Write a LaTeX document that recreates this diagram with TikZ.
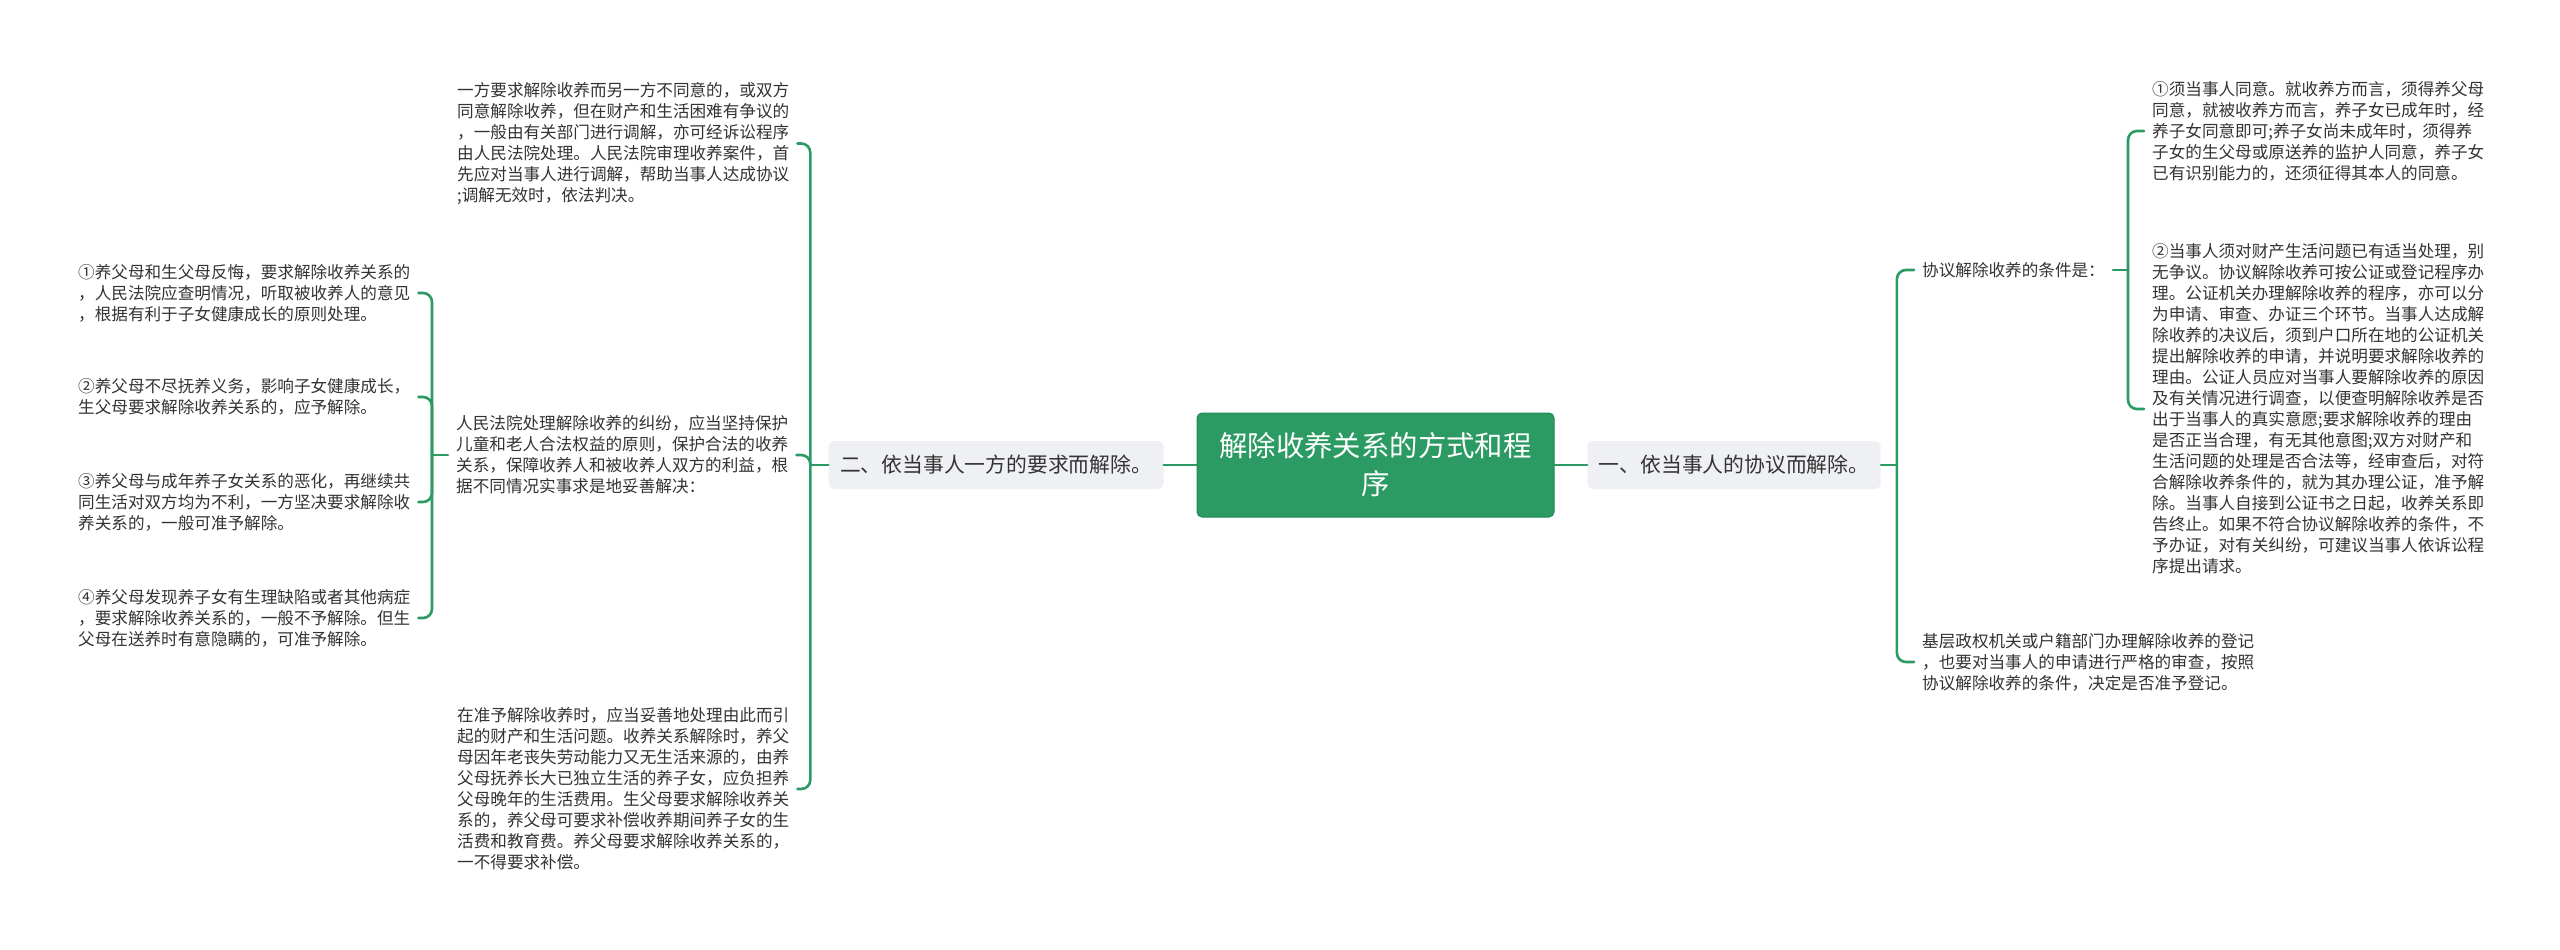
\documentclass[tikz,border=0pt]{standalone}
\usepackage{fontspec}
\newfontfamily\cjk{Noto Sans CJK SC}
\usetikzlibrary{calc}
\definecolor{mgreen}{HTML}{2C9A63}
\definecolor{mgreendark}{HTML}{23875A}
\definecolor{lvlfill}{HTML}{EEF0F3}
\definecolor{txt}{HTML}{333333}
\begin{document}
\begin{tikzpicture}[x=1pt,y=-1pt,
  conn/.style={draw=mgreen, line width=2.6pt, rounded corners=9pt, line cap=round},
  rootbox/.style={fill=mgreen, draw=mgreendark, line width=1pt, rounded corners=5pt, minimum width=357pt, minimum height=104pt, align=center, text=white, font=\cjk\fontsize{28.4}{38}\selectfont, inner sep=0pt},
  lvlbox/.style={fill=lvlfill, rounded corners=6pt, minimum height=48pt, inner xsep=11.5pt, inner ysep=0pt, text=txt, font=\cjk\fontsize{20.8}{26}\selectfont},
  leaf/.style={align=left, anchor=west, inner xsep=8pt, inner ysep=3pt, text=txt, font=\cjk\fontsize{16.6}{21}\selectfont}
]
\fill[white] (0,0) rectangle (2560,950);
\useasboundingbox (0,0) rectangle (2560,950);

\node[rootbox] (root) at (1375.5,465) {解除收养关系的方式和程\\序};
\node[lvlbox] (r1) at (1734,465) {一、依当事人的协议而解除。};
\node[lvlbox] (l1) at (996,465) {二、依当事人一方的要求而解除。};

% right side
\node[leaf] (ra) at (1914,270) {协议解除收养的条件是：};
\node[leaf] (rb) at (1914,662) {基层政权机关或户籍部门办理解除收养的登记\\，也要对当事人的申请进行严格的审查，按照\\协议解除收养的条件，决定是否准予登记。};
\node[leaf] (raa) at (2144,131) {①须当事人同意。就收养方而言，须得养父母\\同意，就被收养方而言，养子女已成年时，经\\养子女同意即可;养子女尚未成年时，须得养\\子女的生父母或原送养的监护人同意，养子女\\已有识别能力的，还须征得其本人的同意。};
\node[leaf] (rab) at (2144,409) {②当事人须对财产生活问题已有适当处理，别\\无争议。协议解除收养可按公证或登记程序办\\理。公证机关办理解除收养的程序，亦可以分\\为申请、审查、办证三个环节。当事人达成解\\除收养的决议后，须到户口所在地的公证机关\\提出解除收养的申请，并说明要求解除收养的\\理由。公证人员应对当事人要解除收养的原因\\及有关情况进行调查，以便查明解除收养是否\\出于当事人的真实意愿;要求解除收养的理由\\是否正当合理，有无其他意图;双方对财产和\\生活问题的处理是否合法等，经审查后，对符\\合解除收养条件的，就为其办理公证，准予解\\除。当事人自接到公证书之日起，收养关系即\\告终止。如果不符合协议解除收养的条件，不\\予办证，对有关纠纷，可建议当事人依诉讼程\\序提出请求。};

% left side
\node[leaf] (la) at (449,143.5) {一方要求解除收养而另一方不同意的，或双方\\同意解除收养，但在财产和生活困难有争议的\\，一般由有关部门进行调解，亦可经诉讼程序\\由人民法院处理。人民法院审理收养案件，首\\先应对当事人进行调解，帮助当事人达成协议\\;调解无效时，依法判决。};
\node[leaf] (lb) at (448,455) {人民法院处理解除收养的纠纷，应当坚持保护\\儿童和老人合法权益的原则，保护合法的收养\\关系，保障收养人和被收养人双方的利益，根\\据不同情况实事求是地妥善解决：};
\node[leaf] (lc) at (449,789) {在准予解除收养时，应当妥善地处理由此而引\\起的财产和生活问题。收养关系解除时，养父\\母因年老丧失劳动能力又无生活来源的，由养\\父母抚养长大已独立生活的养子女，应负担养\\父母晚年的生活费用。生父母要求解除收养关\\系的，养父母可要求补偿收养期间养子女的生\\活费和教育费。养父母要求解除收养关系的，\\一不得要求补偿。};

\node[leaf] (f1) at (70,293) {①养父母和生父母反悔，要求解除收养关系的\\，人民法院应查明情况，听取被收养人的意见\\，根据有利于子女健康成长的原则处理。};
\node[leaf] (f2) at (70,397) {②养父母不尽抚养义务，影响子女健康成长，\\生父母要求解除收养关系的，应予解除。};
\node[leaf] (f3) at (70,502) {③养父母与成年养子女关系的恶化，再继续共\\同生活对双方均为不利，一方坚决要求解除收\\养关系的，一般可准予解除。};
\node[leaf] (f4) at (70,618) {④养父母发现养子女有生理缺陷或者其他病症\\，要求解除收养关系的，一般不予解除。但生\\父母在送养时有意隐瞒的，可准予解除。};

% junctions
\path (r1.east) ++(16,0) coordinate (jr);
\path (ra.east) ++(15,0) coordinate (jra);
\path (l1.west) ++(-18,0) coordinate (jl);
\path (lb.west) ++(-16,0) coordinate (jlb);

% connectors
\draw[conn] (root.east) -- (r1.west);
\draw[conn] (root.west) -- (l1.east);

\draw[conn] (r1.east) -- (jr);
\draw[conn] (jr) |- (ra.west);
\draw[conn] (jr) |- (rb.west);
\draw[conn] (ra.east) -- (jra);
\draw[conn] (jra) |- (raa.west);
\draw[conn] (jra) |- (rab.west);

\draw[conn] (l1.west) -- (jl);
\draw[conn] (jl) |- (la.east);
\draw[conn] (jl) |- (lb.east);
\draw[conn] (jl) |- (lc.east);
\draw[conn] (lb.west) -- (jlb);
\draw[conn] (jlb) |- (f1.east);
\draw[conn] (jlb) |- (f2.east);
\draw[conn] (jlb) |- (f3.east);
\draw[conn] (jlb) |- (f4.east);
\end{tikzpicture}
\end{document}
